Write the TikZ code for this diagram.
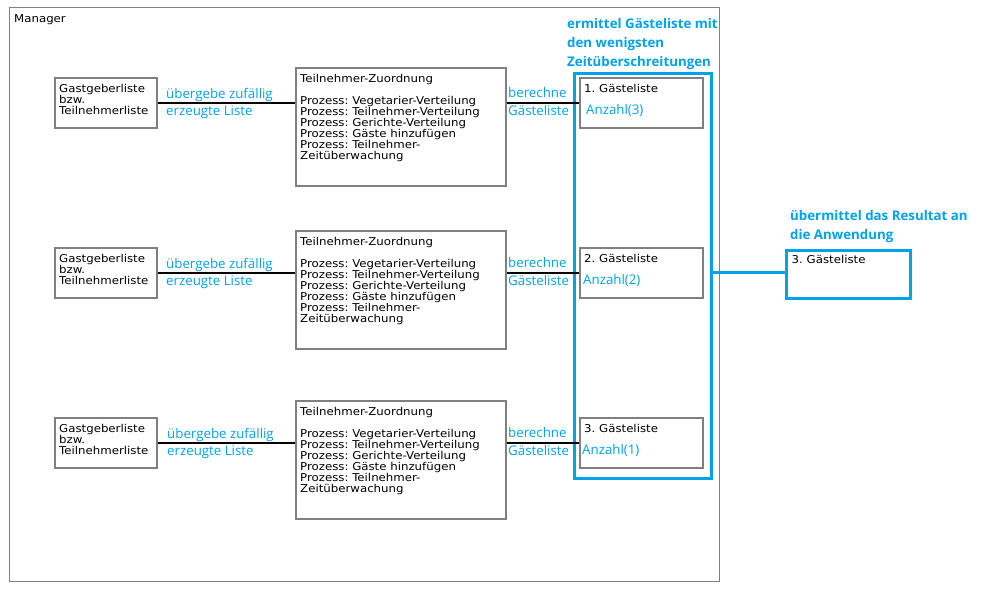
\documentclass[tikz,border=0pt]{standalone}
\usepackage{fontspec}
\setmainfont[FakeStretch=1.09]{DejaVu Sans}
\newfontfamily\bluefont{Open Sans}
\usetikzlibrary{calc}
\definecolor{cblue}{RGB}{0,162,232}
\definecolor{bgray}{RGB}{128,128,128}
\begin{document}
\frenchspacing
\begin{tikzpicture}[x=1pt,y=-1pt,
  frame/.style={draw=bgray, line width=1.3pt, inner sep=0, anchor=north west},
  box/.style={draw=bgray, line width=1.7pt, inner sep=0, anchor=north west},
  bbox/.style={draw=cblue, line width=3pt, inner sep=0, anchor=north west},
  conn/.style={draw=black, line width=2pt},
  bconn/.style={draw=cblue, line width=3pt},
  blk/.style={font=\fontsize{10.8}{11}\selectfont, inner sep=0, anchor=base west, align=left},
  blu/.style={font=\bluefont\fontsize{13.3}{17.5}\selectfont, text=cblue, inner sep=0, anchor=base west, align=left},
  ttl/.style={font=\bluefont\bfseries\fontsize{13.3}{19}\selectfont, text=cblue, inner sep=0, anchor=base west, align=left}
]
\useasboundingbox (0,0) rectangle (982,598);
\fill[white] (0,0) rectangle (982,598);

% Manager frame
\node[frame, minimum width=710, minimum height=574] (mgr) at (9,7) {};
\node[blk] (mgrl) at (14,22) {Manager};

% blue group box (multi-line nodes: base = last baseline)
\node[bbox, minimum width=136.5, minimum height=405] (gb) at (573,71.5) {};
\node[ttl] (gbt) at (567,66.3) {ermittel Gästeliste mit\\den wenigsten\\Zeitüberschreitungen};

% result box
\node[bbox, minimum width=124, minimum height=48] (res) at (785,249) {};
\node[blk] (rest) at (791.5,263.3) {3. Gästeliste};
\node[ttl] (rell) at (790,239.7) {übermittel das Resultat an\\die Anwendung};

% rows
\foreach \i/\T/\G/\A/\ax/\ux in {1/67/77/3/586/166, 2/230/247/2/583/166, 3/400/417/1/582/167}{
  \node[box, minimum width=102, minimum height=50] (g\i) at (54,\G) {};
  \node[blk] (gt\i) at (59,\G+37.5) {Gastgeberliste\\bzw.\\Teilnehmerliste};
  \node[box, minimum width=210, minimum height=118] (t\i) at (295,\T) {};
  \node[blk] (tt\i) at (300,\T+92.7) {Teilnehmer-Zuordnung\\[11pt]Prozess: Vegetarier-Verteilung\\Prozess: Teilnehmer-Verteilung\\Prozess: Gerichte-Verteilung\\Prozess: Gäste hinzufügen\\Prozess: Teilnehmer-\\Zeitüberwachung};
  \node[box, minimum width=123, minimum height=50] (l\i) at (579,\G) {};
  \node[blk] (lt\i) at (584,\G+15.7) {\i. Gästeliste};
  \node[blu] (la\i) at (\ax,\G+37.7) {Anzahl(\A)};
  \draw[conn] (g\i.east) -- (g\i.east -| t\i.west);
  \draw[conn] (l\i.west -| t\i.east) -- (l\i.west);
  \node[blu] (ul\i) at (\ux,\G+38.5) {übergebe zufällig\\erzeugte Liste};
  \node[blu] (bl\i) at (508,\G+38) {berechne\\Gästeliste};
}

\draw[bconn] ($(gb.east |- res.west)+(0,-2)$) -- ($(res.west)+(0,-2)$);
\end{tikzpicture}
\end{document}
